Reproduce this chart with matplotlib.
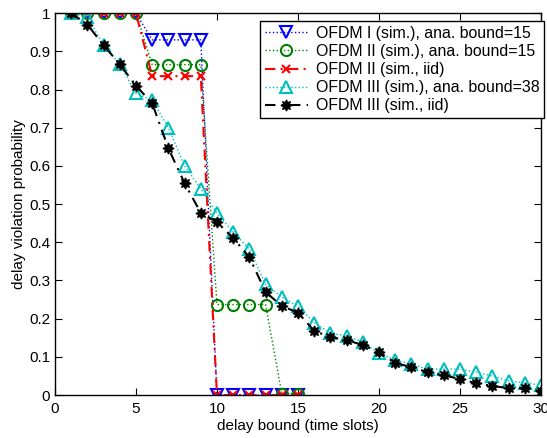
import numpy as np
import matplotlib
matplotlib.use("Agg")
import matplotlib.pyplot as plt

plt.rcParams['font.family'] = ['Liberation Sans', 'DejaVu Sans']

# delay bounds (time slots)
x_short = [1, 2, 3, 4, 5, 6, 7, 8, 9, 10, 11, 12, 13, 14, 15]
x_long = list(range(1, 31))

ofdm1_sim = [1, 1, 1, 1, 1, 0.93, 0.93, 0.93, 0.93, 0, 0, 0, 0, 0, 0]
ofdm2_sim = [1, 1, 1, 1, 1, 0.865, 0.865, 0.865, 0.865,
             0.237, 0.237, 0.237, 0.237, 0.004, 0.004]
ofdm2_iid = [1, 1, 1, 1, 1, 0.835, 0.835, 0.835, 0.835, 0, 0, 0, 0, 0, 0]
ofdm3_sim = [1, 0.99, 0.916, 0.866, 0.79, 0.772, 0.70, 0.60, 0.54, 0.476,
             0.427, 0.382, 0.29, 0.257, 0.232, 0.19, 0.162, 0.155, 0.139, 0.11,
             0.092, 0.081, 0.068, 0.068, 0.068, 0.06, 0.05, 0.037, 0.032, 0.026]
ofdm3_iid = [1, 0.97, 0.916, 0.866, 0.81, 0.764, 0.646, 0.555, 0.477, 0.453,
             0.411, 0.361, 0.27, 0.233, 0.216, 0.168, 0.152, 0.144, 0.131, 0.113,
             0.084, 0.073, 0.06, 0.052, 0.042, 0.031, 0.024, 0.018, 0.018, 0.01]

labels = ["OFDM I (sim.), ana. bound=15",
          "OFDM II (sim.), ana. bound=15",
          "OFDM II (sim., iid)",
          "OFDM III (sim.), ana. bound=38",
          "OFDM III (sim., iid)"]

fig = plt.figure(figsize=(5.47, 4.38), dpi=100)
ax = fig.add_axes([0.1005, 0.098, 0.8885, 0.872])

common = dict(markersize=8, markerfacecolor='none', markeredgewidth=1.5,
              linewidth=1.0)
ax.plot(x_short, ofdm1_sim, color='b', linestyle=':', marker='v',
        label=labels[0], **common)
ax.plot(x_short, ofdm2_sim, color='g', linestyle=':', marker='o',
        label=labels[1], **common)
ax.plot(x_short, ofdm2_iid, color='r', linestyle=(0, (5, 2.5, 1, 2.5)),
        marker='x', markersize=6, markeredgewidth=1.5, linewidth=1.5,
        label=labels[2])
ax.plot(x_long, ofdm3_sim, color='c', linestyle=':', marker='^',
        label=labels[3], **common)
ax.plot(x_long, ofdm3_iid, color='k', linestyle=(0, (5, 3, 1, 3)),
        marker=(8, 1, 0), markersize=8, markerfacecolor='k',
        markeredgecolor='k', linewidth=1.5, label=labels[4])

ax.set_xlim(0, 30)
ax.set_ylim(0, 1)
ax.set_xticks(np.arange(0, 31, 5))
ax.set_yticks(np.arange(0, 1.01, 0.1))
ax.set_yticklabels(["0", "0.1", "0.2", "0.3", "0.4", "0.5", "0.6", "0.7",
                    "0.8", "0.9", "1"])
ax.tick_params(direction='in', top=True, right=True, labelsize=11,
               length=5, width=0.8)
ax.tick_params(axis='x', pad=5)
ax.set_xlabel("delay bound (time slots)", fontsize=11, labelpad=2)
ax.set_ylabel("delay violation probability", fontsize=11, labelpad=2)
for s in ax.spines.values():
    s.set_linewidth(1.0)

leg = ax.legend(loc='upper right', bbox_to_anchor=(544 / 547, 1 - 21 / 438),
                bbox_transform=fig.transFigure, fontsize=11.4, fancybox=False,
                framealpha=1, edgecolor='k', borderaxespad=0,
                handlelength=2.7, labelspacing=0.2, borderpad=0.3,
                handletextpad=0.5)
leg.get_frame().set_linewidth(1.0)

fig.savefig("out.png", dpi=100)
